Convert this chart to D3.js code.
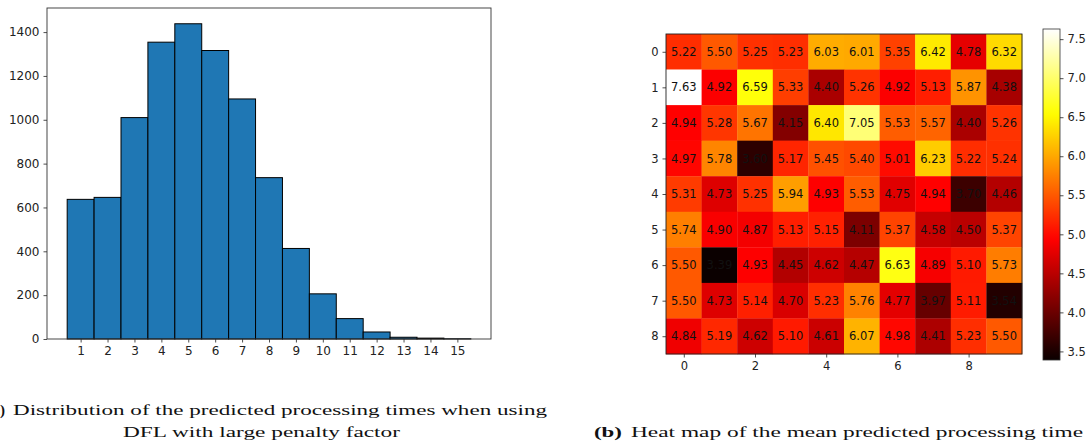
<!DOCTYPE html>
<html><head><meta charset="utf-8">
<script src="https://cdn.jsdelivr.net/npm/d3@7"></script>
<style>body{margin:0;background:#fff}svg{display:block}</style>
</head><body>
<svg id="c" width="1089" height="441"></svg>
<script>
// ---------- data ----------
const histBins = [1,2,3,4,5,6,7,8,9,10,11,12,13,14,15];
const histCounts = [637,646,1010,1354,1438,1316,1095,736,413,206,93,32,8,4,1];
const histYTicks = [0,200,400,600,800,1000,1200,1400];

const heatRows = [0,1,2,3,4,5,6,7,8];
const heatCols = [0,1,2,3,4,5,6,7,8,9];
const heatValues = [
  [5.22,5.50,5.25,5.23,6.03,6.01,5.35,6.42,4.78,6.32],
  [7.63,4.92,6.59,5.33,4.40,5.26,4.92,5.13,5.87,4.38],
  [4.94,5.28,5.67,4.15,6.40,7.05,5.53,5.57,4.40,5.26],
  [4.97,5.78,3.60,5.17,5.45,5.40,5.01,6.23,5.22,5.24],
  [5.31,4.73,5.25,5.94,4.93,5.53,4.75,4.94,3.70,4.46],
  [5.74,4.90,4.87,5.13,5.15,4.11,5.37,4.58,4.50,5.37],
  [5.50,3.39,4.93,4.45,4.62,4.47,6.63,4.89,5.10,5.73],
  [5.50,4.73,5.14,4.70,5.23,5.76,4.77,3.97,5.11,3.54],
  [4.84,5.19,4.62,5.10,4.61,6.07,4.98,4.41,5.23,5.50]
];
const heatXTicks = [0,2,4,6,8];
const cbarTicks = [3.5,4.0,4.5,5.0,5.5,6.0,6.5,7.0,7.5];

const captionALabel = "(a)";
const captionA1 = "Distribution of the predicted processing times when using";
const captionA2 = "DFL with large penalty factor";
const captionBLabel = "(b)";
const captionB = "Heat map of the mean predicted processing time";

// ---------- helpers ----------
function hot(t){
  t = Math.max(0, Math.min(1, t));
  const interp = (pts) => {
    for (let i=1;i<pts.length;i++){
      if (t <= pts[i][0]) {
        const [x0,y0]=pts[i-1],[x1,y1]=pts[i];
        return y0 + (y1-y0)*(t-x0)/(x1-x0);
      }
    }
    return pts[pts.length-1][1];
  };
  const r = interp([[0,0.0416],[0.365079,1],[1,1]]);
  const g = interp([[0,0],[0.365079,0],[0.746032,1],[1,1]]);
  const b = interp([[0,0],[0.746032,0],[1,1]]);
  return d3.rgb(r*255,g*255,b*255).toString();
}

const svg = d3.select("#c");
const FONT = "DejaVu Sans, sans-serif";
const TICKC = "#222";

function styleAxis(g, fs){
  g.selectAll("path.domain").remove();
  g.selectAll(".tick line").attr("stroke", "#222").attr("stroke-width", 0.8);
  g.selectAll(".tick text").attr("fill", TICKC).attr("font-family", FONT).attr("font-size", fs);
}

// ---------- histogram ----------
const hx = d3.scaleLinear().domain([-0.25, 16.25]).range([47, 491]);
const hyMax = 1438*1.05;
const hy = d3.scaleLinear().domain([0, hyMax]).range([339, 8]);

svg.append("g").selectAll("rect").data(histBins).join("rect")
  .attr("x", (d)=>hx(d-0.5))
  .attr("width", (d)=>hx(d+0.5)-hx(d-0.5))
  .attr("y", (d,i)=>hy(histCounts[i]))
  .attr("height", (d,i)=>hy(0)-hy(histCounts[i]))
  .attr("fill", "#1f77b4").attr("stroke", "#000").attr("stroke-width", 1);

const hxAxis = svg.append("g").attr("transform", "translate(0,339)")
  .call(d3.axisBottom(hx).tickValues(histBins).tickSize(3.5).tickPadding(4).tickFormat(d3.format("d")));
styleAxis(hxAxis, 12);
const hyAxis = svg.append("g").attr("transform", "translate(47,0)")
  .call(d3.axisLeft(hy).tickValues(histYTicks).tickSize(3.5).tickPadding(4).tickFormat(d3.format("d")));
styleAxis(hyAxis, 12);

svg.append("rect").attr("x",47).attr("y",8).attr("width",444).attr("height",331)
  .attr("fill","none").attr("stroke","#333").attr("stroke-width",0.9);

// ---------- heatmap ----------
const vmin = d3.min(heatValues.flat()), vmax = d3.max(heatValues.flat());
const color = (v)=>hot((v - vmin)/(vmax - vmin));
const mx = d3.scaleLinear().domain([-0.5, 9.5]).range([666, 1022]);
const my = d3.scaleLinear().domain([-0.5, 8.5]).range([34, 354]);

const cells = [];
heatRows.forEach((r)=>heatCols.forEach((c)=>cells.push({r, c, v: heatValues[r][c]})));

const hg = svg.append("g");
hg.selectAll("rect").data(cells).join("rect")
  .attr("x", (d)=>mx(d.c-0.5)).attr("y", (d)=>my(d.r-0.5))
  .attr("width", (d)=>mx(d.c+0.5)-mx(d.c-0.5)+0.3)
  .attr("height", (d)=>my(d.r+0.5)-my(d.r-0.5)+0.3)
  .attr("fill", (d)=>color(d.v));
hg.selectAll("text").data(cells).join("text")
  .attr("x", (d)=>mx(d.c)).attr("y", (d)=>my(d.r))
  .attr("dy", "0.36em").attr("text-anchor", "middle")
  .attr("font-family", FONT).attr("font-size", 11.5).attr("fill", "#111")
  .text((d)=>d3.format(".2f")(d.v));

const mxAxis = svg.append("g").attr("transform", "translate(0,354)")
  .call(d3.axisBottom(mx).tickValues(heatXTicks).tickSize(3.5).tickPadding(4).tickFormat(d3.format("d")));
styleAxis(mxAxis, 11.5);
const myAxis = svg.append("g").attr("transform", "translate(666,0)")
  .call(d3.axisLeft(my).tickValues(heatRows).tickSize(3.5).tickPadding(4).tickFormat(d3.format("d")));
styleAxis(myAxis, 11.5);
svg.append("rect").attr("x",666).attr("y",34).attr("width",356).attr("height",320)
  .attr("fill","none").attr("stroke","#222").attr("stroke-width",0.9);

// ---------- colorbar ----------
const cb = d3.scaleLinear().domain([vmin, vmax]).range([360, 29]);
const defs = svg.append("defs");
const grad = defs.append("linearGradient").attr("id","hotgrad")
  .attr("x1","0").attr("y1","1").attr("x2","0").attr("y2","0");
d3.range(0, 1.0001, 0.02).forEach((t)=>{
  grad.append("stop").attr("offset", t).attr("stop-color", hot(t));
});
svg.append("rect").attr("x",1043).attr("y",cb(vmax)).attr("width",17).attr("height",cb(vmin)-cb(vmax))
  .attr("fill","url(#hotgrad)").attr("stroke","#333").attr("stroke-width",0.8);
const cbAxis = svg.append("g").attr("transform","translate(1060,0)")
  .call(d3.axisRight(cb).tickValues(cbarTicks).tickSize(3.5).tickPadding(4).tickFormat(d3.format(".1f")));
styleAxis(cbAxis, 11.5);

// ---------- captions ----------
const SERIF = "Liberation Serif, serif";
const CFS = 15;
function cap(x, y, txt, len, bold, anchor){
  const t = svg.append("text").attr("x", x).attr("y", y)
    .attr("font-family", SERIF).attr("font-size", CFS).attr("fill", "#111")
    .attr("text-anchor", anchor || "start").text(txt);
  if (bold) t.attr("font-weight", "bold");
  if (len) t.attr("textLength", len).attr("lengthAdjust", "spacingAndGlyphs");
  return t;
}
cap(5, 415, captionALabel, null, true, "end");
cap(13, 415, captionA1, 534, false);
cap(123, 437, captionA2, 277, false);
cap(594, 437, captionBLabel, 28, true);
cap(631, 437, captionB, 452, false);
</script>
</body></html>
